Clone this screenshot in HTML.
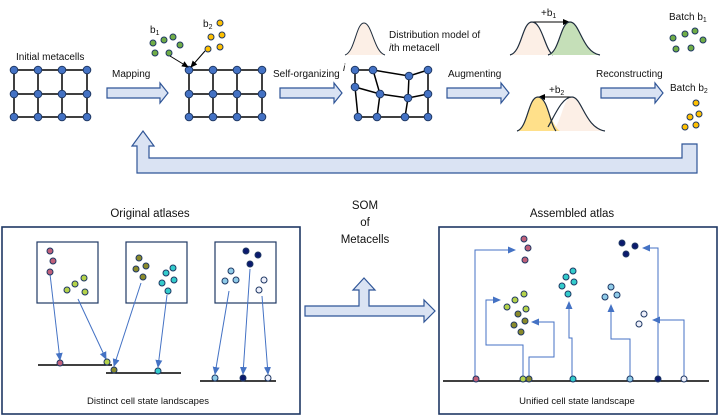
<!DOCTYPE html>
<html><head><meta charset="utf-8"><style>html,body{margin:0;padding:0;background:#fff}svg{display:block}text{font-family:"Liberation Sans",sans-serif;fill:#111}</style></head><body>
<svg width="720" height="416" viewBox="0 0 720 416" xmlns="http://www.w3.org/2000/svg">
<defs>
<marker id="ab" markerWidth="8" markerHeight="8" refX="7" refY="4" orient="auto" markerUnits="userSpaceOnUse"><path d="M0,0.5 L8,4 L0,7.5 Z" fill="#4472c4"/></marker>
<marker id="ak" markerWidth="7" markerHeight="7" refX="6" refY="3.5" orient="auto" markerUnits="userSpaceOnUse"><path d="M0,0.5 L7,3.5 L0,6.5 Z" fill="#000"/></marker>
</defs>
<g font-size="10">
<text x="16" y="60">Initial metacells</text>
<text x="112" y="77">Mapping</text>
<text x="273" y="77">Self-organizing</text>
<text x="448" y="77">Augmenting</text>
<text x="596" y="77">Reconstructing</text>
<text x="389" y="38">Distribution model of</text>
<text x="389" y="51"><tspan font-style="italic">i</tspan>th metacell</text>
<text x="343" y="71" font-style="italic">i</text>
<text x="150" y="33">b<tspan font-size="7" dy="2">1</tspan></text>
<text x="203" y="27">b<tspan font-size="7" dy="2">2</tspan></text>
<text x="541" y="16">+b<tspan font-size="7" dy="2">1</tspan></text>
<text x="549" y="93">+b<tspan font-size="7" dy="2">2</tspan></text>
<text x="669" y="20">Batch b<tspan font-size="7" dy="2">1</tspan></text>
<text x="670" y="91">Batch b<tspan font-size="7" dy="2">2</tspan></text>
</g>
<g stroke="#000" stroke-width="1.5" fill="none">
<path d="M14,70H87M14,94H87M14,117H87M14,70V117M38,70V117M62,70V117M87,70V117"/>
<path d="M189,70H262M189,94H262M189,117H262M189,70V117M213,70V117M237,70V117M262,70V117"/>
<path d="M355,70L373,70L409,76L428,70M355,87L380,94L408,98L428,94M358,117H428M355,70L355,87L358,117M373,70L380,94L377,117M409,76L408,98L405,117M428,70V117"/>
</g>
<g fill="#4472c4" stroke="#1f3864" stroke-width="1">
<circle cx="14" cy="70" r="3.8"/><circle cx="38" cy="70" r="3.8"/><circle cx="62" cy="70" r="3.8"/><circle cx="87" cy="70" r="3.8"/>
<circle cx="14" cy="94" r="3.8"/><circle cx="38" cy="94" r="3.8"/><circle cx="62" cy="94" r="3.8"/><circle cx="87" cy="94" r="3.8"/>
<circle cx="14" cy="117" r="3.8"/><circle cx="38" cy="117" r="3.8"/><circle cx="62" cy="117" r="3.8"/><circle cx="87" cy="117" r="3.8"/>
<circle cx="189" cy="70" r="3.8"/><circle cx="213" cy="70" r="3.8"/><circle cx="237" cy="70" r="3.8"/><circle cx="262" cy="70" r="3.8"/>
<circle cx="189" cy="94" r="3.8"/><circle cx="213" cy="94" r="3.8"/><circle cx="237" cy="94" r="3.8"/><circle cx="262" cy="94" r="3.8"/>
<circle cx="189" cy="117" r="3.8"/><circle cx="213" cy="117" r="3.8"/><circle cx="237" cy="117" r="3.8"/><circle cx="262" cy="117" r="3.8"/>
<circle cx="355" cy="70" r="3.8"/><circle cx="373" cy="70" r="3.8"/><circle cx="409" cy="76" r="3.8"/><circle cx="428" cy="70" r="3.8"/>
<circle cx="355" cy="87" r="3.8"/><circle cx="380" cy="94" r="3.8"/><circle cx="408" cy="98" r="3.8"/><circle cx="428" cy="94" r="3.8"/>
<circle cx="358" cy="117" r="3.8"/><circle cx="377" cy="117" r="3.8"/><circle cx="405" cy="117" r="3.8"/><circle cx="428" cy="117" r="3.8"/>
</g>
<g fill="#70ad47" stroke="#1f3864" stroke-width="1">
<circle cx="153" cy="43" r="3"/><circle cx="164" cy="40" r="3"/><circle cx="173" cy="37" r="3"/><circle cx="180" cy="45" r="3"/><circle cx="155" cy="53" r="3"/><circle cx="169" cy="53" r="3"/>
<circle cx="673" cy="38" r="3"/><circle cx="685" cy="34" r="3"/><circle cx="695" cy="31" r="3"/><circle cx="703" cy="40" r="3"/><circle cx="676" cy="49" r="3"/><circle cx="691" cy="48" r="3"/>
</g>
<g fill="#ffc000" stroke="#1f3864" stroke-width="1">
<circle cx="220" cy="23" r="3"/><circle cx="211" cy="37" r="3"/><circle cx="222" cy="35" r="3"/><circle cx="208" cy="49" r="3"/><circle cx="220" cy="47" r="3"/>
<circle cx="696" cy="103" r="3"/><circle cx="690" cy="117" r="3"/><circle cx="699" cy="114" r="3"/><circle cx="685" cy="127" r="3"/><circle cx="696" cy="125" r="3"/>
</g>
<g stroke="#000" stroke-width="1" marker-end="url(#ak)">
<line x1="170" y1="56" x2="188" y2="67"/><line x1="205" y1="51" x2="191" y2="67"/>
<line x1="532" y1="22" x2="569" y2="22"/><line x1="572" y1="97" x2="539" y2="97"/>
</g>
<g stroke="#1f2d3d" stroke-width="1.2">
<path d="M345,55 C355,52 356,23 364,23 C372,23 374,52 385,55" fill="#fcefe6" stroke-width="1"/>
<path d="M510,55 C522,52 522,22 532,22 C542,22 545,50 553,55 Z" fill="#fcefe6" stroke="none"/>
<path d="M510,55 C522,52 522,22 532,22 C542,22 545,50 553,55" fill="none"/>
<path d="M548,55 C560,52 560,22 570,22 C580,22 582,52 600,55 Z" fill="#c5dfb8" stroke="none"/>
<path d="M548,55 C560,52 560,22 570,22 C580,22 582,52 600,55" fill="none"/>
<path d="M550,131 C562,128 562,97 572,97 C582,97 585,128 605,131 Z" fill="#fcefe6" stroke="none"/>
<path d="M517,131 C528,128 528,97 538,97 C548,97 550,125 560,131 Z" fill="#ffe08a" stroke="none"/>
<path d="M517,131 C528,128 528,97 538,97 C548,97 550,125 556,131" fill="none"/>
<path d="M548,127 C555,115 562,97 572,97 C582,97 585,128 605,131" fill="none"/>
</g>
<g fill="#dae3f3" stroke="#2f5597" stroke-width="1.2">
<path d="M107,88H160V83L168,93L160,103V98H107Z"/>
<path d="M280,88H334V83L342,93L334,103V98H280Z"/>
<path d="M447,88H501V83L509,93L501,103V98H447Z"/>
<path d="M601,88H655V83L663,93L655,103V98H601Z"/>
<path d="M682,144H697V173H137V146H132L143,131L154,146H149V158H682Z"/>
<path d="M305,306H359V290H353L364,278L375,290H369V306H424V300L435,311L424,322V316H305Z"/>
</g>
<g font-size="11.5" text-anchor="middle">
<text x="150" y="217">Original atlases</text>
<text x="572" y="217">Assembled atlas</text>
<text x="365" y="209">SOM</text>
<text x="365" y="226">of</text>
<text x="365" y="243">Metacells</text>
</g>
<g font-size="9.5" text-anchor="middle">
<text x="148" y="404">Distinct cell state landscapes</text>
<text x="577" y="404">Unified cell state landscape</text>
</g>
<g fill="none" stroke="#1f3864" stroke-width="1.6">
<rect x="2" y="227" width="298" height="187"/>
<rect x="439" y="227" width="278" height="187"/>
<rect x="37" y="242" width="61" height="61" stroke-width="1.2"/>
<rect x="126" y="242" width="61" height="61" stroke-width="1.2"/>
<rect x="215" y="242" width="61" height="61" stroke-width="1.2"/>
</g>
<g stroke="#000" stroke-width="1.6">
<line x1="38" y1="365" x2="112" y2="365"/><line x1="106" y1="373" x2="181" y2="373"/><line x1="200" y1="381" x2="276" y2="381"/>
<line x1="443" y1="381" x2="709" y2="381"/>
</g>
<g stroke="#4472c4" stroke-width="1" fill="none" marker-end="url(#ab)">
<line x1="50" y1="274" x2="60" y2="360"/><line x1="78" y1="299" x2="106" y2="359"/><line x1="141" y1="283" x2="114" y2="366"/><line x1="167" y1="295" x2="158" y2="367"/><line x1="229" y1="291" x2="215" y2="374"/><line x1="250" y1="269" x2="243" y2="374"/><line x1="262" y1="296" x2="268" y2="374"/>
<path d="M475,376V250H515"/><path d="M523,376V345H486V300H500"/><path d="M529,376V357H554V322H532"/><path d="M572,376V338H569V302"/><path d="M630,376V339H611V305"/><path d="M658,376V248H643"/><path d="M684,376V320H653"/>
</g>
<g stroke="#1f3864" stroke-width="1">
<g fill="#c0607a"><circle cx="50" cy="251" r="3"/><circle cx="53" cy="261" r="3"/><circle cx="50" cy="272" r="3"/><circle cx="60" cy="363" r="3"/><circle cx="524" cy="239" r="3"/><circle cx="528" cy="248" r="3"/><circle cx="525" cy="260" r="3"/><circle cx="476" cy="379" r="3"/></g>
<g fill="#b5d34a"><circle cx="67" cy="290" r="3"/><circle cx="75" cy="284" r="3"/><circle cx="84" cy="278" r="3"/><circle cx="85" cy="292" r="3"/><circle cx="107" cy="362" r="3"/><circle cx="524" cy="294" r="3"/><circle cx="515" cy="300" r="3"/><circle cx="507" cy="307" r="3"/><circle cx="526" cy="309" r="3"/><circle cx="523" cy="379" r="3"/></g>
<g fill="#8a8a2a"><circle cx="139" cy="258" r="3"/><circle cx="146" cy="266" r="3"/><circle cx="136" cy="269" r="3"/><circle cx="143" cy="277" r="3"/><circle cx="114" cy="370" r="3"/><circle cx="518" cy="314" r="3"/><circle cx="525" cy="321" r="3"/><circle cx="514" cy="325" r="3"/><circle cx="521" cy="332" r="3"/><circle cx="529" cy="379" r="3"/></g>
<g fill="#33cccc"><circle cx="166" cy="273" r="3"/><circle cx="173" cy="268" r="3"/><circle cx="162" cy="283" r="3"/><circle cx="174" cy="280" r="3"/><circle cx="168" cy="291" r="3"/><circle cx="158" cy="371" r="3"/><circle cx="573" cy="271" r="3"/><circle cx="566" cy="277" r="3"/><circle cx="574" cy="282" r="3"/><circle cx="562" cy="286" r="3"/><circle cx="568" cy="294" r="3"/><circle cx="573" cy="379" r="3"/></g>
<g fill="#8fcbe8"><circle cx="231" cy="271" r="3"/><circle cx="225" cy="281" r="3"/><circle cx="236" cy="280" r="3"/><circle cx="215" cy="378" r="3"/><circle cx="611" cy="287" r="3"/><circle cx="605" cy="297" r="3"/><circle cx="617" cy="295" r="3"/><circle cx="630" cy="379" r="3"/></g>
<g fill="#0b1a6e"><circle cx="246" cy="251" r="3"/><circle cx="258" cy="255" r="3"/><circle cx="250" cy="264" r="3"/><circle cx="243" cy="378" r="3"/><circle cx="622" cy="243" r="3"/><circle cx="635" cy="246" r="3"/><circle cx="626" cy="254" r="3"/><circle cx="658" cy="379" r="3"/></g>
<g fill="#eef0fb"><circle cx="264" cy="280" r="3"/><circle cx="259" cy="290" r="3"/><circle cx="268" cy="378" r="3"/><circle cx="644" cy="314" r="3"/><circle cx="639" cy="324" r="3"/><circle cx="684" cy="379" r="3"/></g>
</g>
</svg>
</body></html>
